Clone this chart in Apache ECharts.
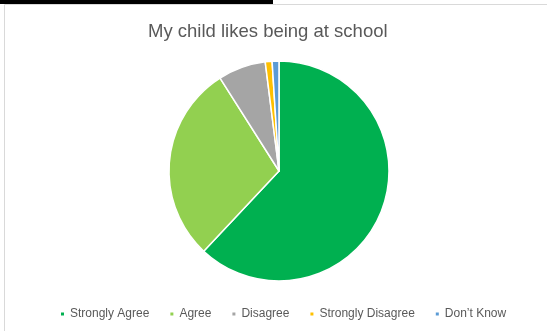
<!DOCTYPE html>
<html>
<head>
<meta charset="utf-8">
<script src="https://cdn.jsdelivr.net/npm/echarts@6/dist/echarts.min.js"></script>
<style>
  html, body { margin: 0; padding: 0; background: #fff; }
  #chart { width: 547px; height: 331px; }
</style>
</head>
<body>
<div id="chart"></div>
<script>
// Survey responses, percentage of parents
const categories = ['Strongly Agree', 'Agree', 'Disagree', 'Strongly Disagree', 'Don\u2019t Know'];
const values = [62, 29, 7, 1, 1];
const colors = ['#00B050', '#92D050', '#A5A5A5', '#FFC000', '#5B9BD5'];
const chartTitle = 'My child likes being at school';

const chart = echarts.init(document.getElementById('chart'), null, { renderer: 'canvas' });

const font = 'Liberation Sans, Arial, sans-serif';

chart.setOption({
  animation: false,
  backgroundColor: '#fff',
  color: colors,
  title: {
    text: chartTitle,
    left: 143,
    top: 17,
    textStyle: { fontFamily: font, fontSize: 18.5, fontWeight: 'normal', color: '#595959' }
  },
  legend: {
    data: categories,
    left: 54,
    top: 303,
    icon: 'rect',
    itemWidth: 5,
    itemHeight: 5,
    itemGap: 19,
    textStyle: { fontFamily: font, fontSize: 12, color: '#595959' }
  },
  graphic: [
    { type: 'rect', shape: { x: 4.5, y: 4.5, width: 600, height: 400 },
      style: { fill: 'none', stroke: '#d9d9d9', lineWidth: 1 }, silent: true },
    { type: 'rect', shape: { x: 0, y: 0, width: 273, height: 4 },
      style: { fill: '#000' }, silent: true }
  ],
  series: [{
    type: 'pie',
    center: [279, 171],
    radius: 110,
    startAngle: 90,
    clockwise: true,
    label: { show: false },
    labelLine: { show: false },
    itemStyle: { borderColor: '#fff', borderWidth: 1.5 },
    data: categories.map((name, i) => ({ name: name, value: values[i] }))
  }]
});
</script>
</body>
</html>
